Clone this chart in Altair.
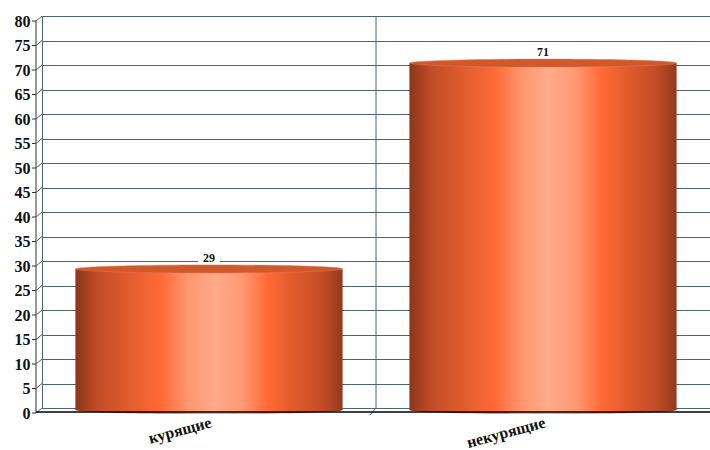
import altair as alt
import pandas as pd

categories = ["курящие", "некурящие"]
values = [29, 71]
tick_values = [0, 5, 10, 15, 20, 25, 30, 35, 40, 45, 50, 55, 60, 65, 70, 75, 80]

W, H = 668, 392
GRID = "#4d6473"
FONT = "Liberation Serif"

bars = pd.DataFrame({"cat": categories, "v": values, "z": [0, 0]})
ticks = pd.DataFrame({"v": tick_values})
frame = pd.DataFrame({"v": [80], "z": [0]})

yscale = alt.Scale(domain=[0, 80], nice=False, zero=True)
yaxis = alt.Axis(values=tick_values, title=None, grid=True, gridColor=GRID, gridWidth=1,
                 domain=True, domainColor=GRID, ticks=False, labelPadding=12, labelOffset=5,
                 labelFont=FONT, labelFontSize=16, labelFontWeight="bold", labelColor="#111")
xscale = alt.Scale(domain=categories, paddingInner=0.2, paddingOuter=0.1)
xaxis = alt.Axis(title=None, domain=False, ticks=False, grid=False, labelAngle=-15,
                 labelAlign="right", labelBaseline="top", labelPadding=6,
                 labelFont=FONT, labelFontSize=16, labelFontWeight="bold", labelColor="#111")


def Y(field):
    return alt.Y(field, type="quantitative", scale=yscale, axis=yaxis)


def X():
    return alt.X("cat:N", scale=xscale, axis=xaxis, sort=categories)


grad = alt.Gradient(
    gradient="linear", x1=0, x2=1, y1=0, y2=0,
    stops=[
        alt.GradientStop(color="#8a361b", offset=0.0),
        alt.GradientStop(color="#c24c26", offset=0.08),
        alt.GradientStop(color="#e65f2f", offset=0.22),
        alt.GradientStop(color="#ff6a35", offset=0.32),
        alt.GradientStop(color="#ff9670", offset=0.42),
        alt.GradientStop(color="#ffaa8a", offset=0.52),
        alt.GradientStop(color="#ff9a74", offset=0.62),
        alt.GradientStop(color="#ff6a35", offset=0.72),
        alt.GradientStop(color="#e05a2c", offset=0.82),
        alt.GradientStop(color="#c44d26", offset=0.92),
        alt.GradientStop(color="#933a1d", offset=1.0),
    ],
)

k = 0.03
c = round(0.5523 * k, 4)
ellipse = (f"M-1,0 C-1,{-c} -0.5523,{-k} 0,{-k} C0.5523,{-k} 1,{-c} 1,0 "
           f"C1,{c} 0.5523,{k} 0,{k} C-0.5523,{k} -1,{c} -1,0 Z")
bw = W / 2 * 0.8
esize = bw * bw
box = "M-1,-0.5 L1,-0.5 L1,0.5 L-1,0.5 Z"

OFF = 3

# divider between categories
divider = alt.Chart(frame).mark_rule(color=GRID, strokeWidth=1).encode(
    x=alt.value(W / 2), y=Y("v"), y2="z")
div_slant = alt.Chart(frame).mark_rule(color=GRID, strokeWidth=1, yOffset=7).encode(
    x=alt.value(W / 2 - 6), x2=alt.value(W / 2), y=Y("z"), y2="z")

# front axis and slanted connectors
front_axis = alt.Chart(frame).mark_rule(color="#333", strokeWidth=1, yOffset=5, y2Offset=5).encode(
    x=alt.value(-6), y=Y("v"), y2="z")
connectors = alt.Chart(ticks).mark_rule(color=GRID, strokeWidth=1, yOffset=5).encode(
    x=alt.value(-6), x2=alt.value(0), y=Y("v"), y2="v")
front_ticks = alt.Chart(ticks).mark_rule(color="#333", strokeWidth=1, yOffset=5, y2Offset=5).encode(
    x=alt.value(-10), x2=alt.value(-6), y=Y("v"), y2="v")
floor = alt.Chart(frame).mark_rule(color="#000", strokeWidth=1.6, yOffset=4, y2Offset=4).encode(
    x=alt.value(-6), x2=alt.value(W), y=Y("z"), y2="z")

bar = alt.Chart(bars).mark_bar(color=grad, yOffset=OFF, y2Offset=OFF - 1, width=bw).encode(
    x=X(), y=Y("v"), y2="z")
bottom = alt.Chart(bars).mark_point(shape=ellipse, filled=True, fill=grad, fillOpacity=1,
                                    strokeWidth=0, yOffset=OFF - 1).encode(
    x=X(), y=Y("z"), size=alt.value(esize))
top = alt.Chart(bars).mark_point(shape=ellipse, filled=True, fill="#d0582b", fillOpacity=1,
                                 stroke="#e07a55", strokeWidth=0.5, yOffset=OFF).encode(
    x=X(), y=Y("v"), size=alt.value(esize))
label_box = alt.Chart(bars).mark_point(shape=box, filled=True, fill="white", fillOpacity=1,
                                       strokeWidth=0, yOffset=OFF - 11).encode(
    x=X(), y=Y("v"), size=alt.value(22 * 22))
labels = alt.Chart(bars).mark_text(font=FONT, fontSize=12, fontWeight="bold", color="#111",
                                   baseline="middle", yOffset=OFF - 11).encode(
    x=X(), y=Y("v"), text="v:Q")

chart = alt.layer(
    divider, div_slant, front_axis, connectors, front_ticks,
    bottom, bar, top, floor, label_box, labels,
).properties(
    width=W, height=H,
    autosize=alt.AutoSizeParams(type="none"),
    padding={"left": 42, "top": 16, "right": 0, "bottom": 42},
    background="white",
).configure_view(stroke=None)

chart.save("out.html", embed_options={"renderer": "svg", "actions": False})
